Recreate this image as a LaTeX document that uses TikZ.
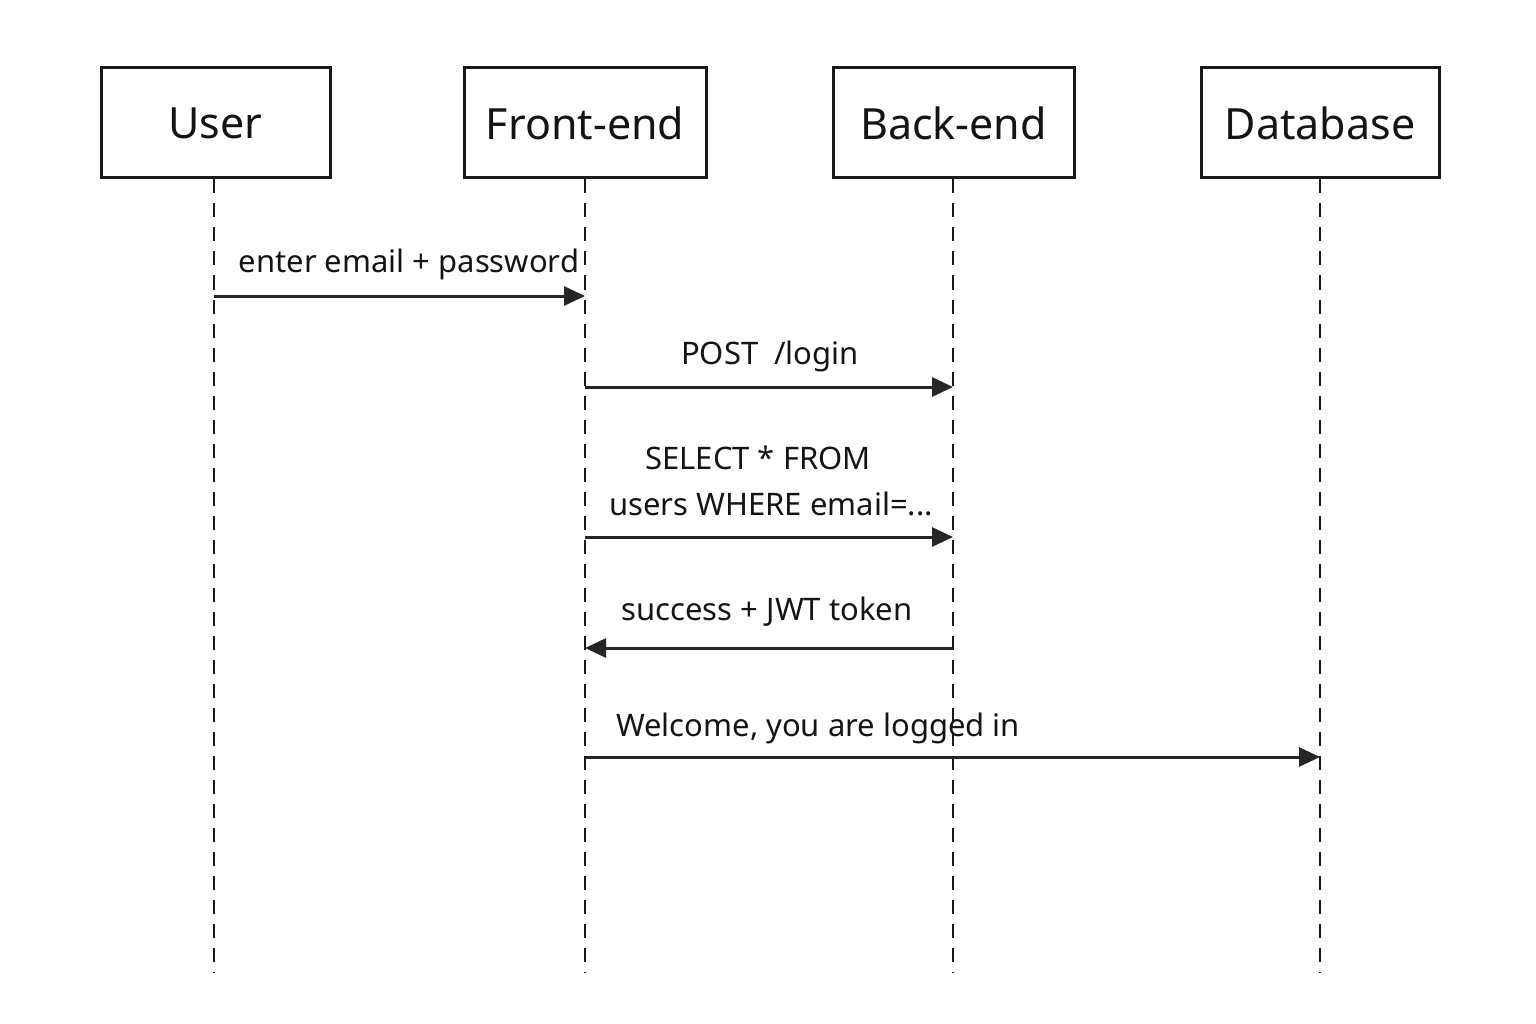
\documentclass[tikz,border=0pt]{standalone}
\usepackage{fontspec}
\setmainfont{Noto Sans}
\usetikzlibrary{arrows.meta}
\begin{document}
\begin{tikzpicture}[x=1pt,y=-1pt,
  actor/.style={draw=black!90,line width=3pt,minimum height=110pt,inner sep=0pt,font=\fontsize{43}{50}\selectfont,text=black!92},
  life/.style={line width=2.4pt,dash pattern=on 14pt off 10pt,black!90},
  msg/.style={line width=3pt,black!85,-{Triangle[length=21pt,width=19pt]}},
  lbl/.style={font=\fontsize{31}{36}\selectfont,text=black!92,inner sep=0pt}]
\useasboundingbox (0,0) rectangle (1536,1024);
\node[actor,minimum width=229pt] (user) at (215.5,123) {User};
\node[actor,minimum width=242pt] (front) at (585,123) {Front-end};
\node[actor,minimum width=241pt] (back) at (953.5,123) {Back-end};
\node[actor,minimum width=238pt] (db) at (1320,123) {Database};
\coordinate (userend) at (214,972);
\coordinate (frontend) at (585,972);
\coordinate (backend) at (953,972);
\coordinate (dbend) at (1320,972);
\draw[life] (user.south -| userend) -- (userend);
\draw[life] (front.south) -- (frontend);
\draw[life] (back.south -| backend) -- (backend);
\draw[life] (db.south) -- (dbend);
% messages
\coordinate (m1a) at (214,296); \coordinate (m1b) at (585,296);
\coordinate (m2a) at (585,387); \coordinate (m2b) at (953,387);
\coordinate (m3a) at (585,537); \coordinate (m3b) at (953,537);
\coordinate (m4a) at (953,648); \coordinate (m4b) at (585,648);
\coordinate (m5a) at (585,757); \coordinate (m5b) at (1320,757);
\draw[msg] (m1a) -- (m1b);
\draw[msg] (m2a) -- (m2b);
\draw[msg] (m3a) -- (m3b);
\draw[msg] (m4a) -- (m4b);
\draw[msg] (m5a) -- (m5b);
\node[lbl] (l1) at (409,264) {enter email + password};
\node[lbl] (l2) at (770,356) {POST\ \ /login};
\node[lbl] (l3a) at (758,458) {SELECT * FROM};
\node[lbl] (l3b) at (771,504) {users WHERE email=...};
\node[lbl] (l4) at (767,612) {success + JWT token};
\node[lbl,anchor=west] (l5) at (616,728) {Welcome, you are logged in};
\end{tikzpicture}
\end{document}
